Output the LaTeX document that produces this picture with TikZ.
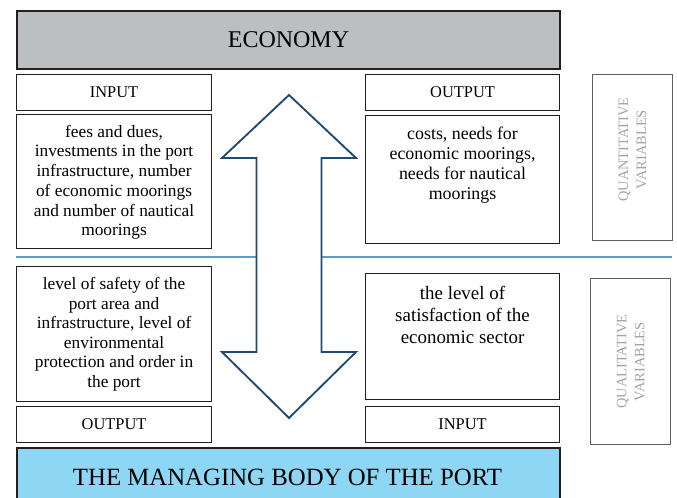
\documentclass[tikz,border=0pt]{standalone}
\usepackage{fontspec}
\setmainfont{Liberation Serif}
\usepackage{tikz}
\usetikzlibrary{positioning,calc}
\definecolor{frame}{HTML}{231F20}
\definecolor{econ}{HTML}{BDBEC0}
\definecolor{board}{HTML}{8DD6F4}
\definecolor{split}{HTML}{5B9BD5}
\definecolor{arrowblue}{HTML}{1F4A73}
\definecolor{varframe}{HTML}{5F5F5F}
\definecolor{vartext}{HTML}{A3A3A3}
\tikzset{
  sized/.style 2 args={minimum width=#1*0.75pt, minimum height=#2*0.75pt},
  bandbox/.style={draw=frame, line width=1.5pt, anchor=north west, inner sep=0pt},
  labbox/.style={draw=frame, line width=0.8pt, anchor=north west, inner sep=0pt,
    text depth=0pt, font=\fontsize{12.3}{14}\selectfont},
  textbox/.style={draw=frame, line width=0.8pt, anchor=north west, inner sep=0pt},
  boxtext/.style={inner sep=0pt, align=center},
  varbox/.style={draw=varframe, line width=0.8pt, anchor=north west, inner sep=0pt},
  vartxt/.style={text=vartext, rotate=90, align=center, inner sep=0pt,
    font=\fontsize{10.8}{13.5}\selectfont},
  flow/.style={draw=arrowblue, line width=1.4pt, fill=white, line join=miter},
  splitline/.style={draw=split, line width=1.6pt},
}

\begin{document}
\begin{tikzpicture}[x=0.75pt, y=-0.75pt]
  \useasboundingbox (0,0) rectangle (677,498);
  \clip (0,0) rectangle (677,498);

  % bands
  \node[bandbox, fill=econ, sized={543}{58}, text depth=0pt, font=\fontsize{18}{20}\selectfont] (economy) at (16,10) {ECONOMY};
  \node[bandbox, fill=board, sized={543}{80}] (board) at (16,447) {};
  \node[anchor=base, inner sep=0pt, font=\fontsize{18.6}{20}\selectfont] (boardText) at (287.5,485) {THE MANAGING BODY OF THE PORT};

  % quantitative half
  \node[labbox, sized={195}{36}] (inTop) at (16,74) {INPUT};
  \node[textbox, sized={195}{134}] (feesBox) at (16,114) {};
  \node[boxtext, below=8pt of feesBox.north, font=\fontsize{13}{14.8}\selectfont] (fees)
    {fees and dues,\\ investments in the port\\ infrastructure, number\\ of economic moorings\\ and number of nautical\\ moorings};

  \node[labbox, sized={194}{36}] (outTop) at (365,74) {OUTPUT};
  \node[textbox, sized={194}{128}] (costsBox) at (365,115) {};
  \node[boxtext, below=9pt of costsBox.north, font=\fontsize{13.4}{15}\selectfont] (costs)
    {costs, needs for\\ economic moorings,\\ needs for nautical\\ moorings};

  \node[varbox, sized={80}{166}] (quantBox) at (592,74) {};
  \node[vartxt] (quant) at ($(quantBox.center)+(0,-8)$) {QUANTITATIVE\\ VARIABLES};

  % divider
  \coordinate (splitL) at (16,257);
  \coordinate (splitR) at (672,257);
  \draw[splitline] (splitL) -- (splitR);

  % qualitative half
  \node[textbox, sized={195}{135}] (safetyBox) at (16,266) {};
  \node[boxtext, below=8.5pt of safetyBox.north, font=\fontsize{13}{14.6}\selectfont] (safety)
    {level of safety of the\\ port area and\\ infrastructure, level of\\ environmental\\ protection and order in\\ the port};
  \node[labbox, sized={195}{36}] (outBot) at (16,406) {OUTPUT};

  \node[textbox, sized={194}{126}] (satisBox) at (365,273) {};
  \node[boxtext, below=9.5pt of satisBox.north, font=\fontsize{14.2}{16.7}\selectfont] (satis)
    {the level of\\ satisfaction of the\\ economic sector};
  \node[labbox, sized={194}{36}] (inBot) at (365,406) {INPUT};

  \node[varbox, line width=1.1pt, sized={80}{166}] (qualBox) at (590,278) {};
  \node[vartxt] (qual) at (qualBox.center) {QUALITATIVE\\ VARIABLES};

  % double arrow between the sectors
  \coordinate (up) at (289,95);
  \coordinate (down) at (289,418);
  \draw[flow] (up) -- ($(up)+(67,63)$) -- ($(up)+(32.5,63)$) -- ($(down)+(32.5,-66)$)
    -- ($(down)+(67,-66)$) -- (down) -- ($(down)+(-67,-66)$) -- ($(down)+(-32.5,-66)$)
    -- ($(up)+(-32.5,63)$) -- ($(up)+(-67,63)$) -- cycle;
\end{tikzpicture}
\end{document}
